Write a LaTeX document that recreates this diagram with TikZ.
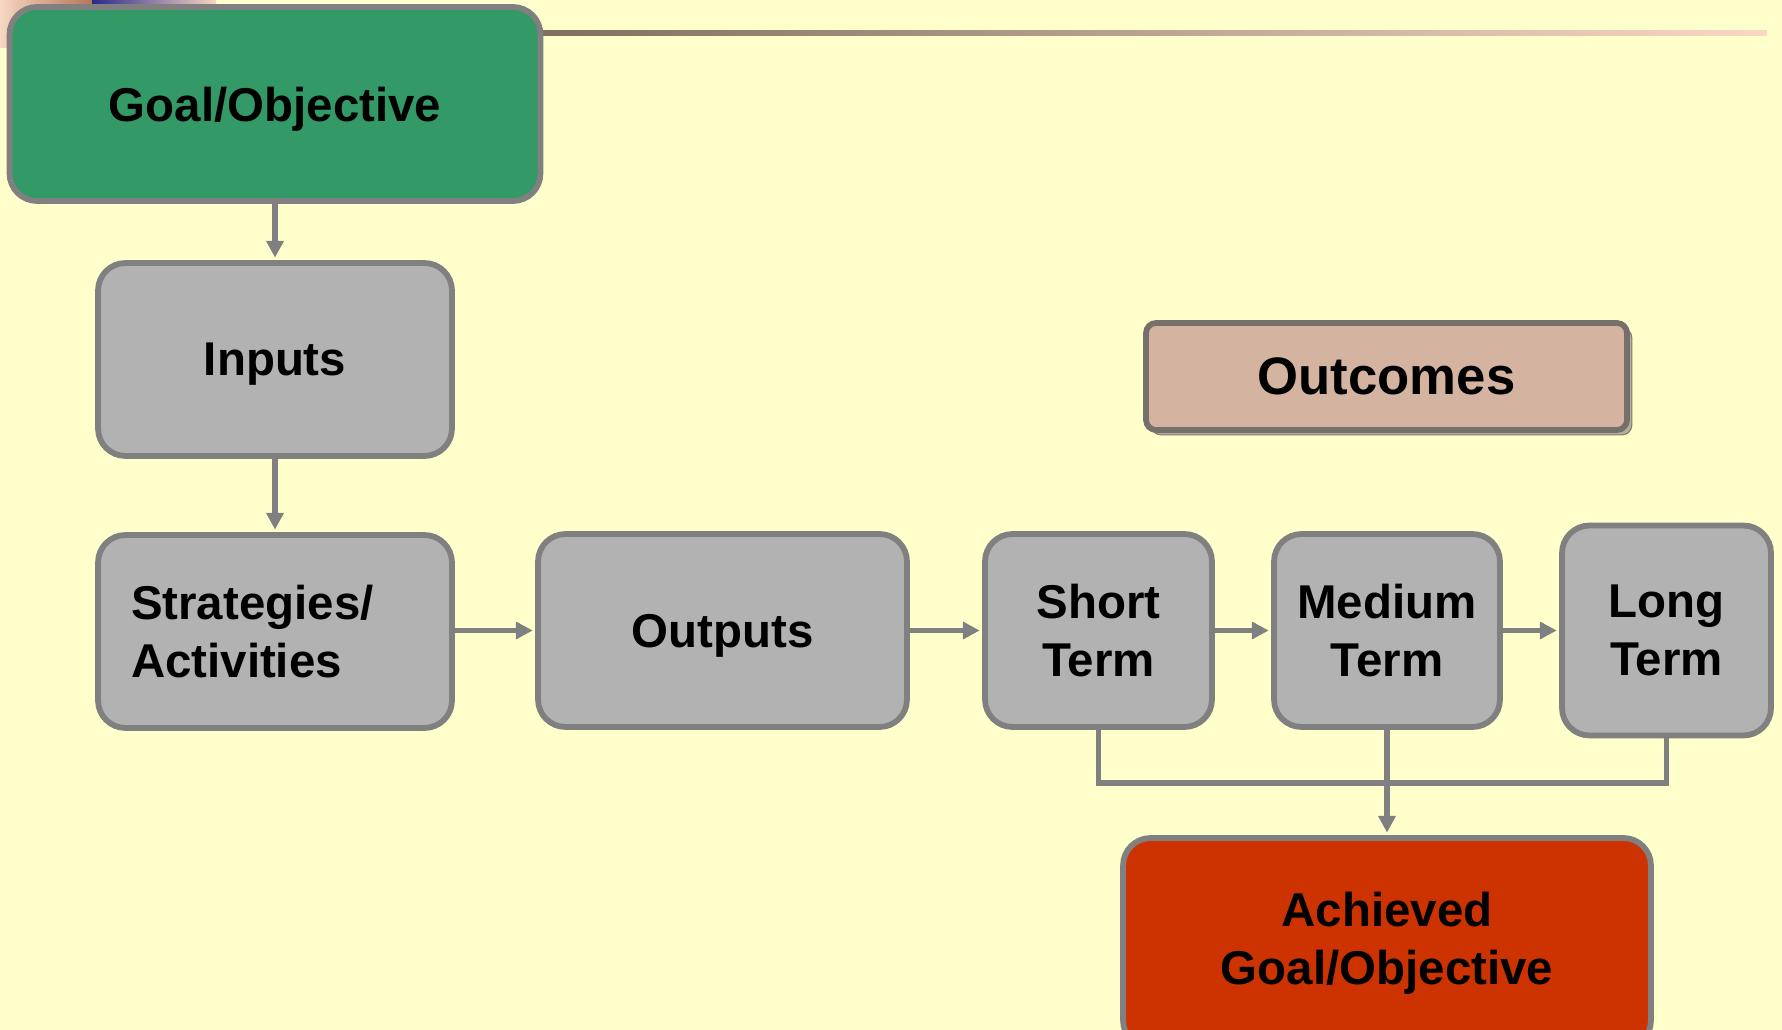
\documentclass[tikz,border=0pt]{standalone}
\usepackage{fontspec}
\setmainfont{Liberation Sans}
\usetikzlibrary{arrows.meta,shadows}
\definecolor{slidebg}{HTML}{FFFFCC}
\definecolor{goalgreen}{HTML}{339966}
\definecolor{boxgray}{HTML}{B2B2B2}
\definecolor{edgegray}{HTML}{808080}
\definecolor{outtan}{HTML}{D4B4A0}
\definecolor{outedge}{HTML}{77706A}
\definecolor{shadegray}{HTML}{B4AE9E}
\definecolor{achred}{HTML}{CC3300}
\definecolor{lineleft}{HTML}{7F6F5F}
\definecolor{lineright}{HTML}{FAD8C4}
\definecolor{peach}{HTML}{F8D6C2}
\definecolor{rust}{HTML}{B47658}
\definecolor{slideblue}{HTML}{2A2A8C}

\begin{document}
\begin{tikzpicture}[x=0.02cm,y=-0.02cm,
	box/.style={draw=edgegray,line width=3.3pt,rounded corners=0.55cm,fill=boxgray,align=center,inner sep=0pt,
		font=\fontsize{27}{33}\selectfont\bfseries},
	oneline/.style={text depth=0pt},
	busline/.style={draw=edgegray,line width=3.3pt},
	flow/.style={busline,-{Triangle[length=9.5pt,width=9.5pt]},shorten >=1.4pt}]
	% slide background
	\clip (0,0) rectangle (1782,1030);
	\fill[slidebg] (0,0) rectangle (1782,1030);
	\shade[left color=peach,right color=rust] (0,0) rectangle (92,48);
	\shade[left color=slideblue,right color=peach] (92,0) rectangle (216,48);
	\shade[left color=lineleft,right color=lineright] (540,31) rectangle (1767,36);
	
	\node[box,oneline,fill=goalgreen,minimum width=10.62cm,minimum height=3.88cm] (goal) at (275,104){Goal/Objective};
	\node[box,oneline,minimum width=7.08cm,minimum height=3.86cm] (inputs) at (275,359.5){Inputs};
	\node[box,minimum height=3.86cm,inner xsep=0.66cm,text width=5.76cm,align=left] (strat) at (275,631.5){Strategies/\\Activities};
	\node[box,oneline,minimum width=7.38cm,minimum height=3.86cm] (outputs) at (722.5,630.5){Outputs};
	\node[box,minimum width=4.54cm,minimum height=3.86cm] (short) at (1098.5,630.5){Short\\Term};
	\node[box,minimum width=4.52cm,minimum height=3.86cm] (medium) at (1387,630.5){Medium\\Term};
	\node[box,minimum width=4.18cm,minimum height=4.2cm] (long) at (1666.5,630.5){Long\\Term};
	
	\node[box,oneline,fill=outtan,draw=outedge,rounded corners=0.2cm,minimum width=9.62cm,minimum height=2.14cm,
		font=\fontsize{30}{36}\selectfont\bfseries,
		copy shadow={shadow xshift=2.8pt,shadow yshift=-2.8pt,fill=shadegray,draw=shadegray!70!black,line width=0.6pt}] (outcomes) at (1386.5,376.5){Outcomes};
	
	\node[box,fill=achred,minimum width=10.56cm,minimum height=4.2cm] (achieved) at (1387,943){Achieved\\Goal/Objective};
	
	\coordinate (bus) at (0,783);
	
	\draw[flow] (goal.south) -- (inputs.north);
	\draw[flow] (inputs.south) -- (strat.north);
	\draw[flow] (strat.east |- outputs.west) -- (outputs.west);
	\draw[flow] (outputs.east) -- (short.west);
	\draw[flow] (short.east) -- (medium.west);
	\draw[flow] (medium.east) -- (long.west);
	
	\draw[busline] (short.south) -- (short.south |- bus) -| (long.south);
	\draw[flow] (medium.south) -- (achieved.north);
\end{tikzpicture}
\end{document}
